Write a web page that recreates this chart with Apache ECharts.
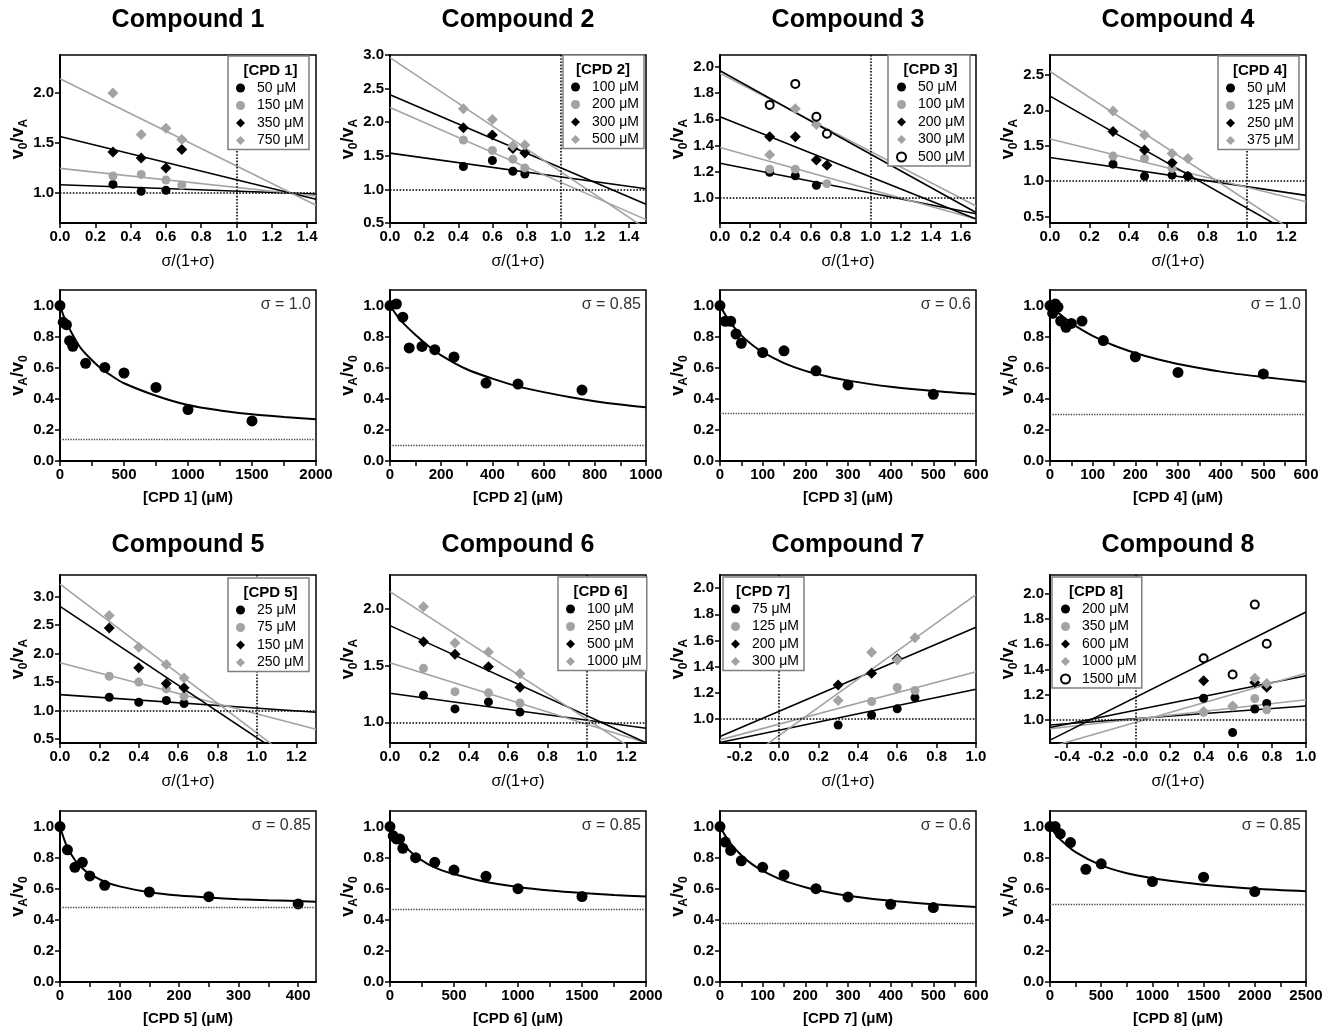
<!DOCTYPE html>
<html>
<head>
<meta charset="utf-8">
<script src="https://cdn.jsdelivr.net/npm/echarts@6/dist/echarts.min.js"></script>
<style>
  html, body { margin: 0; background: #fff; }
  #chart { width: 1330px; height: 1031px; }
</style>
</head>
<body>
<div id="chart"></div>
<script>
// ---- Dixon-type plots: v0/vA against sigma/(1+sigma) ----
const c1Sigma = [0.30, 0.46, 0.60, 0.69];
const c1Conc = ['50 μM', '150 μM', '350 μM', '750 μM'];
const c1Ratio = [
  [1.086, 1.017, 1.027, null],
  [1.17, 1.186, 1.13, 1.08],
  [1.41, 1.35, 1.25, 1.435],
  [2.0, 1.585, 1.648, 1.535]
];
const c1Fit = [[1.083, 0.99], [1.246, 0.97], [1.565, 0.937], [2.143, 0.877]];

const c2Sigma = [0.43, 0.60, 0.72, 0.79];
const c2Conc = ['100 μM', '200 μM', '300 μM', '500 μM'];
const c2Ratio = [
  [1.34, 1.43, 1.27, 1.23],
  [1.735, 1.58, 1.45, 1.32],
  [1.917, 1.81, 1.61, 1.54],
  [2.2, 2.04, 1.65, 1.66]
];
const c2Fit = [[1.54, 1.01], [2.22, 0.55], [2.41, 0.78], [2.96, 0.415]];

const c3Sigma = [0.33, 0.50, 0.64, 0.71];
const c3Conc = ['50 μM', '100 μM', '200 μM', '300 μM', '500 μM'];
const c3Ratio = [
  [1.196, 1.17, 1.097, null],
  [1.22, 1.22, null, 1.11],
  [1.467, 1.467, 1.29, 1.25],
  [1.33, 1.68, 1.56, 1.49],
  [1.71, 1.87, 1.62, 1.49]
];
const c3Fit = [[1.265, 0.88], [1.385, 0.84], [1.62, 0.84], [1.95, 0.94], [1.97, 0.89]];

const c4Sigma = [0.32, 0.48, 0.62, 0.70];
const c4Conc = ['50 μM', '125 μM', '250 μM', '375 μM'];
const c4Ratio = [
  [1.24, 1.07, 1.085, 1.07],
  [1.354, 1.32, 1.18, null],
  [1.70, 1.44, 1.26, 1.07],
  [1.99, 1.65, 1.39, 1.32]
];
const c4Fit = [[1.335, 0.80], [1.594, 0.71], [2.2, 0.146], [2.547, 0.18]];

const c5Sigma = [0.25, 0.40, 0.54, 0.63];
const c5Conc = ['25 μM', '75 μM', '150 μM', '250 μM'];
const c5Ratio = [
  [1.234, 1.146, 1.176, 1.123],
  [1.603, 1.5, 1.38, 1.25],
  [2.45, 1.75, 1.475, 1.40],
  [2.67, 2.11, 1.81, 1.57]
];
const c5Fit = [[1.28, 0.97], [1.84, 0.67], [2.83, -0.17], [3.22, -0.18]];

const c6Sigma = [0.17, 0.33, 0.50, 0.66];
const c6Conc = ['100 μM', '250 μM', '500 μM', '1000 μM'];
const c6Ratio = [
  [1.238, 1.118, 1.18, 1.09],
  [1.476, 1.27, 1.26, 1.17],
  [1.71, 1.60, 1.49, 1.31],
  [2.02, 1.70, 1.62, 1.43]
];
const c6Fit = [[1.256, 0.947], [1.526, 0.82], [1.853, 0.82], [2.153, 0.688]];

const c7Sigma = [0.30, 0.47, 0.60, 0.69];
const c7Conc = ['75 μM', '125 μM', '200 μM', '300 μM'];
const c7Ratio = [
  [0.954, 1.03, 1.077, 1.163],
  [null, 1.133, 1.24, 1.217],
  [1.26, 1.35, 1.46, null],
  [1.14, 1.51, 1.45, 1.62]
];
const c7Fit = [[0.82, 1.227], [0.84, 1.36], [0.865, 1.70], [0.55, 1.95]];

const c8Sigma = [0.40, 0.57, 0.70, 0.77];
const c8Conc = ['200 μM', '350 μM', '600 μM', '1000 μM', '1500 μM'];
const c8Ratio = [
  [1.172, 0.90, 1.087, 1.13],
  [1.06, 1.106, 1.17, 1.08],
  [1.31, null, 1.297, 1.26],
  [1.066, 1.11, 1.33, 1.29],
  [1.49, 1.36, 1.915, 1.605]
];
const c8Fit = [[0.96, 1.11], [0.93, 1.16], [0.94, 1.35], [0.785, 1.37], [0.84, 1.857]];

// ---- dose-response plots: vA/v0 against [CPD] ----
const c1Dose = [0, 25, 50, 75, 100, 200, 350, 500, 750, 1000, 1500];
const c1Act = [1.0, 0.892, 0.877, 0.774, 0.738, 0.628, 0.602, 0.566, 0.473, 0.331, 0.258];
const c1CurveX = [0, 25, 50, 100, 150, 200, 300, 400, 500, 750, 1000, 1250, 1500, 1750, 2000];
const c1CurveY = [1.0, 0.94, 0.89, 0.81, 0.74, 0.69, 0.61, 0.55, 0.50, 0.42, 0.36, 0.325, 0.30, 0.283, 0.268];
const c1Plateau = 0.142;

const c2Dose = [0, 25, 50, 75, 125, 175, 250, 375, 500, 750];
const c2Act = [1.0, 1.01, 0.925, 0.727, 0.737, 0.716, 0.669, 0.501, 0.495, 0.456];
const c2CurveX = [0, 25, 50, 100, 150, 200, 300, 400, 500, 600, 700, 800, 900, 1000];
const c2CurveY = [1.0, 0.94, 0.89, 0.81, 0.74, 0.68, 0.59, 0.53, 0.48, 0.443, 0.412, 0.385, 0.363, 0.345];
const c2Plateau = 0.105;

const c3Dose = [0, 12.5, 25, 37.5, 50, 100, 150, 225, 300, 500];
const c3Act = [1.0, 0.899, 0.899, 0.817, 0.757, 0.698, 0.709, 0.58, 0.489, 0.429];
const c3CurveX = [0, 12.5, 25, 50, 75, 100, 150, 200, 250, 300, 400, 500, 600];
const c3CurveY = [1.0, 0.94, 0.887, 0.808, 0.748, 0.70, 0.63, 0.58, 0.545, 0.517, 0.477, 0.45, 0.43];
const c3Plateau = 0.306;

const c4Dose = [0, 6.25, 12.5, 18.75, 25, 37.5, 50, 75, 125, 200, 300, 500];
const c4Act = [1.0, 0.95, 1.01, 0.99, 0.90, 0.86, 0.885, 0.90, 0.775, 0.67, 0.57, 0.56];
const c4CurveX = [0, 25, 50, 75, 100, 150, 200, 250, 300, 400, 500, 600];
const c4CurveY = [1.0, 0.94, 0.887, 0.843, 0.805, 0.743, 0.695, 0.656, 0.624, 0.575, 0.54, 0.51];
const c4Plateau = 0.297;

const c5Dose = [0, 12.5, 25, 37.5, 50, 75, 150, 250, 400];
const c5Act = [1.0, 0.85, 0.738, 0.77, 0.682, 0.622, 0.579, 0.549, 0.502];
const c5CurveX = [0, 6.25, 12.5, 25, 37.5, 50, 75, 100, 150, 200, 250, 300, 350, 430];
const c5CurveY = [1.0, 0.925, 0.865, 0.785, 0.732, 0.695, 0.645, 0.615, 0.577, 0.556, 0.543, 0.533, 0.526, 0.517];
const c5Plateau = 0.478;

const c6Dose = [0, 25, 50, 75, 100, 200, 350, 500, 750, 1000, 1500];
const c6Act = [1.0, 0.94, 0.92, 0.92, 0.86, 0.80, 0.77, 0.72, 0.68, 0.60, 0.55];
const c6CurveX = [0, 50, 100, 200, 300, 400, 500, 750, 1000, 1250, 1500, 1750, 2000];
const c6CurveY = [1.0, 0.937, 0.887, 0.81, 0.757, 0.72, 0.694, 0.643, 0.611, 0.588, 0.572, 0.56, 0.55];
const c6Plateau = 0.466;

const c7Dose = [0, 12.5, 25, 50, 100, 150, 225, 300, 400, 500];
const c7Act = [1.0, 0.90, 0.846, 0.78, 0.738, 0.689, 0.60, 0.547, 0.50, 0.479];
const c7CurveX = [0, 12.5, 25, 50, 75, 100, 150, 200, 250, 300, 400, 500, 600];
const c7CurveY = [1.0, 0.94, 0.89, 0.815, 0.758, 0.715, 0.652, 0.61, 0.579, 0.555, 0.522, 0.5, 0.483];
const c7Plateau = 0.384;

const c8Dose = [0, 50, 100, 200, 350, 500, 1000, 1500, 2000];
const c8Act = [1.0, 1.0, 0.953, 0.897, 0.725, 0.76, 0.646, 0.674, 0.582];
const c8CurveX = [0, 50, 100, 250, 500, 750, 1000, 1250, 1500, 2000, 2500];
const c8CurveY = [1.0, 0.955, 0.917, 0.835, 0.75, 0.70, 0.668, 0.645, 0.626, 0.6, 0.584];
const c8Plateau = 0.5;

// ---- tick labels ----
const sigmaTicks12 = [0.0, 0.2, 0.4, 0.6, 0.8, 1.0, 1.2];
const sigmaTicks14 = [0.0, 0.2, 0.4, 0.6, 0.8, 1.0, 1.2, 1.4];
const sigmaTicks16 = [0.0, 0.2, 0.4, 0.6, 0.8, 1.0, 1.2, 1.4, 1.6];
const sigmaTicksFrom02 = [-0.2, 0.0, 0.2, 0.4, 0.6, 0.8, 1.0];
const sigmaTicksFrom04 = [-0.4, -0.2, 0.0, 0.2, 0.4, 0.6, 0.8, 1.0];
const ratioTicks1to2 = [1.0, 1.5, 2.0];
const ratioTicks05to25 = [0.5, 1.0, 1.5, 2.0, 2.5];
const ratioTicks05to3 = [0.5, 1.0, 1.5, 2.0, 2.5, 3.0];
const ratioTicksFine = [1.0, 1.2, 1.4, 1.6, 1.8, 2.0];
const actTicks = [0.0, 0.2, 0.4, 0.6, 0.8, 1.0];
const doseTicks2000 = [0, 500, 1000, 1500, 2000];
const doseMinor2000 = [250, 750, 1250, 1750];
const doseTicks2500 = [0, 500, 1000, 1500, 2000, 2500];
const doseMinor2500 = [250, 750, 1250, 1750, 2250];
const doseTicks1000 = [0, 200, 400, 600, 800, 1000];
const doseMinor1000 = [100, 300, 500, 700, 900];
const doseTicks600 = [0, 100, 200, 300, 400, 500, 600];
const doseMinor600 = [50, 150, 250, 350, 450, 550];
const doseTicks400 = [0, 100, 200, 300, 400];
const doseMinor400 = [50, 150, 250, 350];
const sigmaValues = ['1.0', '0.85', '0.6', '1.0', '0.85', '0.85', '0.6', '0.85'];

// ---- panel setup ----
const dixon = [
  { sigma: c1Sigma, conc: c1Conc, ratio: c1Ratio, fit: c1Fit, x: [0, 1.45], xt: sigmaTicks14, y: [0.7, 2.38], yt: ratioTicks1to2, vline: 1, leg: [228, 56, 85] },
  { sigma: c2Sigma, conc: c2Conc, ratio: c2Ratio, fit: c2Fit, x: [0, 1.5], xt: sigmaTicks14, y: [0.5, 3.0], yt: ratioTicks05to3, vline: 1, leg: [563, 55, 80] },
  { sigma: c3Sigma, conc: c3Conc, ratio: c3Ratio, fit: c3Fit, x: [0, 1.7], xt: sigmaTicks16, y: [0.81, 2.09], yt: ratioTicksFine, vline: 1, leg: [888, 55, 85] },
  { sigma: c4Sigma, conc: c4Conc, ratio: c4Ratio, fit: c4Fit, x: [0, 1.3], xt: sigmaTicks12, y: [0.41, 2.78], yt: ratioTicks05to25, vline: 1, leg: [1218, 56, 84] },
  { sigma: c5Sigma, conc: c5Conc, ratio: c5Ratio, fit: c5Fit, x: [0, 1.3], xt: sigmaTicks12, y: [0.43, 3.38], yt: ratioTicks05to3, vline: 1, leg: [228, 578, 85] },
  { sigma: c6Sigma, conc: c6Conc, ratio: c6Ratio, fit: c6Fit, x: [0, 1.3], xt: sigmaTicks12, y: [0.817, 2.3], yt: ratioTicks1to2, vline: 1, leg: [558, 577, 85] },
  { sigma: c7Sigma, conc: c7Conc, ratio: c7Ratio, fit: c7Fit, x: [-0.3, 1.0], xt: sigmaTicksFrom02, y: [0.816, 2.1], yt: ratioTicksFine, vline: 0, leg: [723, 577, 80] },
  { sigma: c8Sigma, conc: c8Conc, ratio: c8Ratio, fit: c8Fit, x: [-0.5, 1.0], xt: sigmaTicksFrom04, y: [0.817, 2.15], yt: ratioTicksFine, vline: 0, leg: [1052, 577, 88], negZero: true }
];
const doses = [
  { dose: c1Dose, act: c1Act, cx: c1CurveX, cy: c1CurveY, plateau: c1Plateau, x: 2000, xt: doseTicks2000, xm: doseMinor2000 },
  { dose: c2Dose, act: c2Act, cx: c2CurveX, cy: c2CurveY, plateau: c2Plateau, x: 1000, xt: doseTicks1000, xm: doseMinor1000 },
  { dose: c3Dose, act: c3Act, cx: c3CurveX, cy: c3CurveY, plateau: c3Plateau, x: 600, xt: doseTicks600, xm: doseMinor600 },
  { dose: c4Dose, act: c4Act, cx: c4CurveX, cy: c4CurveY, plateau: c4Plateau, x: 600, xt: doseTicks600, xm: doseMinor600 },
  { dose: c5Dose, act: c5Act, cx: c5CurveX, cy: c5CurveY, plateau: c5Plateau, x: 430, xt: doseTicks400, xm: doseMinor400 },
  { dose: c6Dose, act: c6Act, cx: c6CurveX, cy: c6CurveY, plateau: c6Plateau, x: 2000, xt: doseTicks2000, xm: doseMinor2000 },
  { dose: c7Dose, act: c7Act, cx: c7CurveX, cy: c7CurveY, plateau: c7Plateau, x: 600, xt: doseTicks600, xm: doseMinor600 },
  { dose: c8Dose, act: c8Act, cx: c8CurveX, cy: c8CurveY, plateau: c8Plateau, x: 2500, xt: doseTicks2500, xm: doseMinor2500 }
];

const FONT = '"Liberation Sans", Arial, Helvetica, sans-serif';
const GRAY = '#a3a3a3';
const MARKERS = [
  { symbol: 'circle', color: '#000', size: 9 },
  { symbol: 'circle', color: GRAY, size: 9 },
  { symbol: 'diamond', color: '#000', size: 11 },
  { symbol: 'diamond', color: GRAY, size: 11 },
  { symbol: 'emptyCircle', color: '#000', size: 8 }
];
const FIT_COLORS = ['#000', GRAY, '#000', GRAY, '#000'];
const colLeft = [60, 390, 720, 1050];
const plotW = 256;
const rowTop = [55, 290, 575, 811];
const rowH = [168, 171, 168, 171];

const grids = [], xAxes = [], yAxes = [], series = [], legends = [], graphics = [];

function valueAxis(min, max, ticks, fmt, minor) {
  return {
    type: 'value', min: min, max: max,
    axisLine: { show: true, onZero: false, lineStyle: { color: '#000', width: 2 } },
    axisTick: { show: true, length: 5, lineStyle: { color: '#000', width: 1.5 },
      customValues: minor ? ticks.concat(minor) : ticks },
    axisLabel: { customValues: ticks, formatter: fmt, color: '#000', fontFamily: FONT,
      fontWeight: 'bold', fontSize: 15, margin: 6 },
    splitLine: { show: false }
  };
}
function vName(a, b) {
  return '{v|v}{s|' + a + '}{v|/v}{s|' + b + '}';
}
const vRich = {
  v: { fontFamily: FONT, fontWeight: 'bold', fontSize: 18, color: '#000', lineHeight: 22, verticalAlign: 'middle' },
  s: { fontFamily: FONT, fontWeight: 'bold', fontSize: 12, color: '#000', lineHeight: 12, verticalAlign: 'bottom' }
};
function text(x, y, str, size, weight, align, color) {
  graphics.push({ type: 'text', x: x, y: y, z: 20, silent: true,
    style: { text: str, fontFamily: FONT, fontSize: size, fontWeight: weight, fill: color || '#000',
      align: align, textAlign: align, verticalAlign: 'middle', textVerticalAlign: 'middle' } });
}

for (let i = 0; i < 8; i++) {
  const col = i % 4, block = Math.floor(i / 4);
  const left = colLeft[col];
  const d = dixon[i];
  const n = i + 1;

  // ---- upper panel ----
  let g = grids.length;
  const rTop = rowTop[block * 2], rH = rowH[block * 2];
  grids.push({ left: left, top: rTop, width: plotW, height: rH, show: true,
    borderColor: '#000', borderWidth: 1.5, backgroundColor: 'transparent' });
  const xa = valueAxis(d.x[0], d.x[1], d.xt,
    v => (d.negZero && v === 0) ? '-0.0' : v.toFixed(1));
  Object.assign(xa, { gridIndex: g, name: 'σ/(1+σ)', nameLocation: 'middle', nameGap: 31,
    nameTextStyle: { fontFamily: FONT, fontSize: 16, color: '#000' } });
  xAxes.push(xa);
  const ya = valueAxis(d.y[0], d.y[1], d.yt, v => v.toFixed(1));
  Object.assign(ya, { gridIndex: g, name: vName('0', 'A'), nameLocation: 'middle', nameGap: 30,
    nameTextStyle: { rich: vRich } });
  yAxes.push(ya);

  series.push({ type: 'line', xAxisIndex: g, yAxisIndex: g, data: [], silent: true, z: 1,
    markLine: { silent: true, symbol: 'none', label: { show: false },
      lineStyle: { type: 'dotted', color: '#000', width: 1.6 },
      data: [{ yAxis: 1 }, { xAxis: d.vline }] } });

  const names = [];
  d.conc.forEach((label, j) => {
    series.push({ type: 'line', xAxisIndex: g, yAxisIndex: g, silent: true, z: 2,
      symbol: 'none', clip: true,
      data: [[d.x[0], d.fit[j][0]], [d.x[1], d.fit[j][1]]],
      lineStyle: { color: FIT_COLORS[j], width: 1.6 } });
    const name = 'c' + n + '|' + label;
    names.push(name);
    const pts = [];
    d.sigma.forEach((s, k) => { if (d.ratio[j][k] != null) pts.push([s, d.ratio[j][k]]); });
    const m = MARKERS[j];
    series.push({ type: 'scatter', name: name, xAxisIndex: g, yAxisIndex: g, z: 3,
      symbol: m.symbol, symbolSize: m.size, data: pts,
      itemStyle: { color: m.color, borderColor: m.color, borderWidth: m.symbol === 'emptyCircle' ? 1.6 : 0, opacity: 1 } });
  });
  legends.push({ data: names, left: d.leg[0], top: d.leg[1], orient: 'vertical',
    padding: [25, 5, 2, 8], itemGap: 3.5, itemWidth: 9, itemHeight: 9,
    borderColor: '#7f7f7f', borderWidth: 1.5, backgroundColor: '#fff', selectedMode: false,
    formatter: nm => nm.split('|')[1], z: 6,
    textStyle: { fontFamily: FONT, fontSize: 14, color: '#000', lineHeight: 14, padding: [0, 0, 0, 7] } });
  text(d.leg[0] + d.leg[2] / 2, d.leg[1] + 15, '[CPD ' + n + ']', 15, 'bold', 'center');
  text(left + plotW / 2, block === 0 ? 20 : 545, 'Compound ' + n, 25, 'bold', 'center');

  // ---- lower panel ----
  const p = doses[i];
  g = grids.length;
  const bTop = rowTop[block * 2 + 1], bH = rowH[block * 2 + 1];
  grids.push({ left: left, top: bTop, width: plotW, height: bH, show: true,
    borderColor: '#000', borderWidth: 1.5, backgroundColor: 'transparent' });
  const bx = valueAxis(0, p.x, p.xt, v => String(v), p.xm);
  Object.assign(bx, { gridIndex: g, name: '[CPD ' + n + '] (μM)', nameLocation: 'middle', nameGap: 29,
    nameTextStyle: { fontFamily: FONT, fontSize: 15, fontWeight: 'bold', color: '#000' } });
  xAxes.push(bx);
  const by = valueAxis(0, 1.1, actTicks, v => v.toFixed(1));
  Object.assign(by, { gridIndex: g, name: vName('A', '0'), nameLocation: 'middle', nameGap: 30,
    nameTextStyle: { rich: vRich } });
  yAxes.push(by);

  series.push({ type: 'line', xAxisIndex: g, yAxisIndex: g, silent: true, z: 2,
    symbol: 'none', smooth: 0.3,
    data: p.cx.map((x, k) => [x, p.cy[k]]),
    lineStyle: { color: '#000', width: 2 },
    markLine: { silent: true, symbol: 'none', label: { show: false },
      lineStyle: { type: 'dotted', color: '#444', width: 1.3 },
      data: [{ yAxis: p.plateau }] } });
  series.push({ type: 'scatter', xAxisIndex: g, yAxisIndex: g, z: 3, symbol: 'circle',
    symbolSize: 11, data: p.dose.map((x, k) => [x, p.act[k]]), itemStyle: { color: '#000', opacity: 1 } });
  text(left + plotW - 5, bTop + 15, 'σ = ' + sigmaValues[i], 16, 'normal', 'right', '#333');
}

const chart = echarts.init(document.getElementById('chart'), null, { renderer: 'canvas' });
chart.setOption({
  backgroundColor: '#fff',
  animation: false,
  textStyle: { fontFamily: FONT },
  grid: grids,
  xAxis: xAxes,
  yAxis: yAxes,
  legend: legends,
  series: series,
  graphic: { elements: graphics }
});
</script>
</body>
</html>
